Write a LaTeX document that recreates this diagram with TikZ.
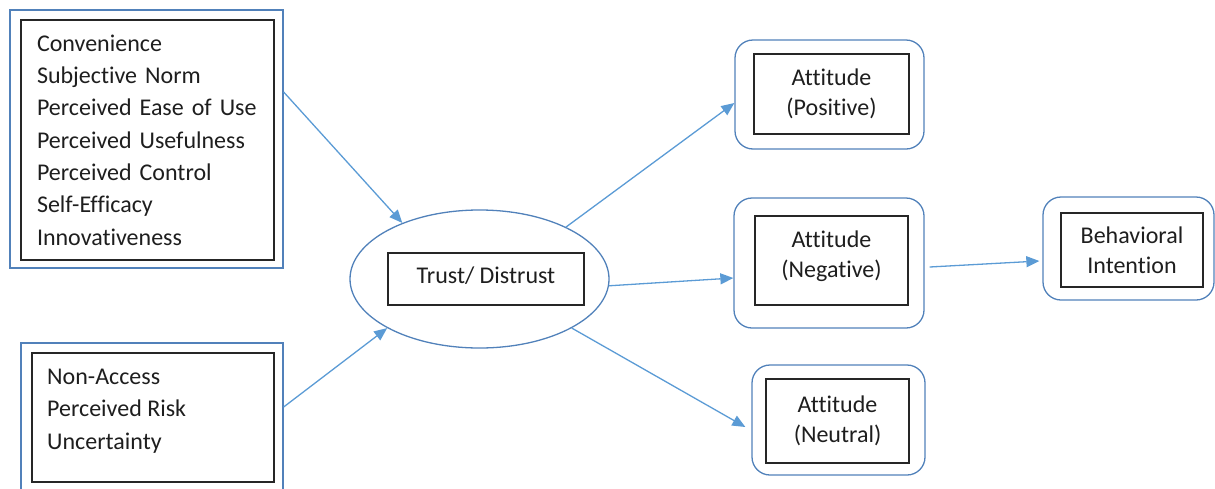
\documentclass[tikz,border=0pt]{standalone}
\usepackage{fontspec}
\setmainfont{Carlito}[Ligatures={NoCommon}]
\usetikzlibrary{arrows.meta,shapes.geometric}
\definecolor{arrowblue}{HTML}{5B9BD5}
\definecolor{edgeblue}{HTML}{5181BA}
\definecolor{textgray}{HTML}{1E1E1E}
\tikzset{
  outerbox/.style={draw=edgeblue, line width=1.3pt, inner sep=0pt},
  roundbox/.style={outerbox, rounded corners=18pt},
  innerbox/.style={draw=black!85, line width=1.3pt, inner sep=0pt, align=center, text=textgray},
  arr/.style={draw=arrowblue, line width=1.3pt, -{Triangle[length=13pt,width=11pt]}},
  every node/.style={font=\fontsize{24}{30.5}\selectfont, text=textgray}
}
\begin{document}
\begin{tikzpicture}[x=1pt,y=-1pt]
\useasboundingbox (0,0) rectangle (1215,488);
% top-left block
\node[outerbox, minimum width=273pt, minimum height=258pt] (b1out) at (146.5,139) {};
\node[innerbox, minimum width=253pt, minimum height=240pt, text width=221pt, align=left, inner xsep=16pt,
      font=\fontsize{24}{32.3}\selectfont] (b1in) at (147.5,140)
  {Convenience\\Subjective Norm\\Perceived Ease of Use\\Perceived Usefulness\\Perceived Control\\Self-Efficacy\\Innovativeness};
% bottom-left block
\node[outerbox, minimum width=262pt, minimum height=157pt] (b2out) at (152,421.5) {};
\node[innerbox, minimum width=242pt, minimum height=129pt] (b2in) at (153,417.5) {};
\node[anchor=west, align=left, inner sep=0pt, font=\fontsize{24}{32.3}\selectfont] (b2txt) at (47,411)
  {Non-Access\\Perceived Risk\\Uncertainty};
% center ellipse
\node[ellipse, draw=edgeblue, line width=1.3pt, minimum width=259pt, minimum height=138pt, inner sep=0pt] (trust) at (479.5,279) {};
\node[innerbox, minimum width=196pt, minimum height=52pt] (trustin) at (486,279) {};
\node[inner sep=0pt] (trusttxt) at (486,276) {Trust/ Distrust};
% attitudes
\node[roundbox, minimum width=189pt, minimum height=109pt] (pos) at (829.5,94.5) {};
\node[innerbox, minimum width=155pt, minimum height=80pt] (posin) at (831.5,94) {Attitude\\(Positive)};
\node[roundbox, minimum width=190pt, minimum height=130pt] (neg) at (829,263) {};
\node[innerbox, minimum width=153pt, minimum height=89pt] (negin) at (831.5,260.5) {};
\node[align=center, inner sep=0pt] (negtxt) at (831.5,256) {Attitude\\(Negative)};
\node[roundbox, minimum width=173pt, minimum height=110pt] (neu) at (838.5,420) {};
\node[innerbox, minimum width=143pt, minimum height=84pt] (neuin) at (837.5,421) {Attitude\\(Neutral)};
\node[roundbox, minimum width=171pt, minimum height=103pt] (bi) at (1128.5,248.5) {};
\node[innerbox, minimum width=142pt, minimum height=74pt] (biin) at (1132,250) {Behavioral\\Intention};
% connectors
\draw[arr] ([yshift=47pt]b1out.east) -- (trust.144);
\draw[arr] ([yshift=14.5pt]b2out.east) -- (trust.208);
\draw[arr] (trust.31) -- ([yshift=-8.5pt]pos.west);
\draw[arr] (trust.357) -- ([yshift=-15pt]neg.west);
\draw[arr] (trust.332) -- ([xshift=-6pt,yshift=-7pt]neu.west);
\draw[arr] ([xshift=5pt,yshift=-4pt]neg.east) -- ([xshift=-3pt,yshift=-12.5pt]bi.west);
\end{tikzpicture}
\end{document}
